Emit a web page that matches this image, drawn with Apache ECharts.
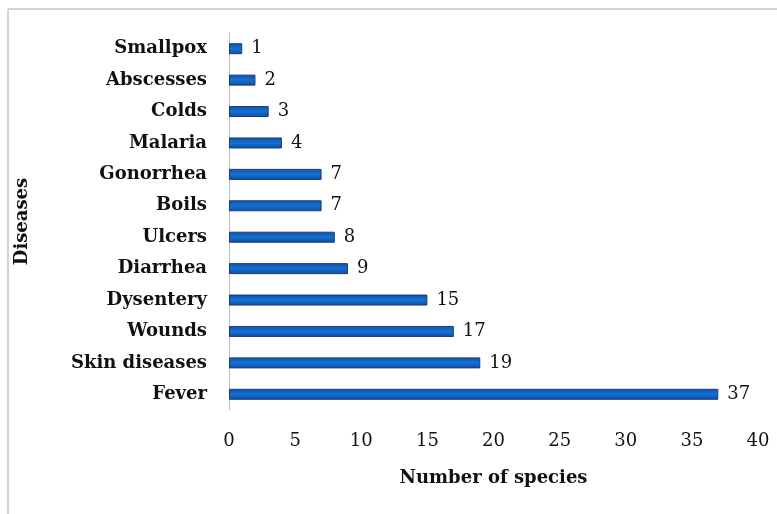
<!DOCTYPE html>
<html>
<head>
<meta charset="utf-8">
<script src="https://cdn.jsdelivr.net/npm/echarts@6/dist/echarts.min.js"></script>
<style>
html,body{margin:0;padding:0;background:#fff;}
#chart{width:777px;height:514px;}
</style>
</head>
<body>
<div id="chart"></div>
<script>
const categories = ["Fever","Skin diseases","Wounds","Dysentery","Diarrhea","Ulcers","Boils","Gonorrhea","Malaria","Colds","Abscesses","Smallpox"];
const speciesCounts = [37,19,17,15,9,8,7,7,4,3,2,1];
const xTicks = [0,5,10,15,20,25,30,35,40];

const chart = echarts.init(document.getElementById('chart'), null, {renderer:'canvas'});
const serif = '"DejaVu Serif", "Liberation Serif", serif';
const barColor = new echarts.graphic.LinearGradient(0,0,0,1,[
  {offset:0,color:'#0a54b2'},
  {offset:0.5,color:'#1670d0'},
  {offset:1,color:'#0a4ea8'}
]);
chart.setOption({
  animation:false,
  backgroundColor:'#fff',
  graphic:[
    {type:'line',shape:{x1:8,y1:9,x2:777,y2:9},style:{stroke:'#d4d4d4',lineWidth:2},silent:true},
    {type:'line',shape:{x1:8,y1:9,x2:8,y2:514},style:{stroke:'#d4d4d4',lineWidth:2},silent:true}
  ],
  grid:{left:229,right:19,top:33,bottom:104,containLabel:false},
  xAxis:{
    type:'value',min:xTicks[0],max:xTicks[xTicks.length-1],interval:5,
    axisLine:{show:false},axisTick:{show:false},splitLine:{show:false},
    axisLabel:{fontFamily:serif,fontSize:18,color:'#111',margin:22},
    name:'Number of species',nameLocation:'middle',nameGap:59,
    nameTextStyle:{fontFamily:serif,fontSize:18,fontWeight:'bold',color:'#111'}
  },
  yAxis:{
    type:'category',data:categories,
    axisLine:{show:true,lineStyle:{color:'#bdbdbd',width:1}},
    axisTick:{show:false},
    axisLabel:{fontFamily:serif,fontSize:18,fontWeight:'bold',color:'#111',margin:22},
    name:'Diseases',nameLocation:'middle',nameGap:198,nameRotate:90,
    nameTextStyle:{fontFamily:serif,fontSize:18,fontWeight:'bold',color:'#111'}
  },
  series:[{
    type:'bar',data:speciesCounts,barWidth:11,
    itemStyle:{color:barColor,borderColor:'#1d3a78',borderWidth:1},
    label:{show:true,position:'right',distance:9,fontFamily:serif,fontSize:18,color:'#111'}
  }]
});
</script>
</body>
</html>
